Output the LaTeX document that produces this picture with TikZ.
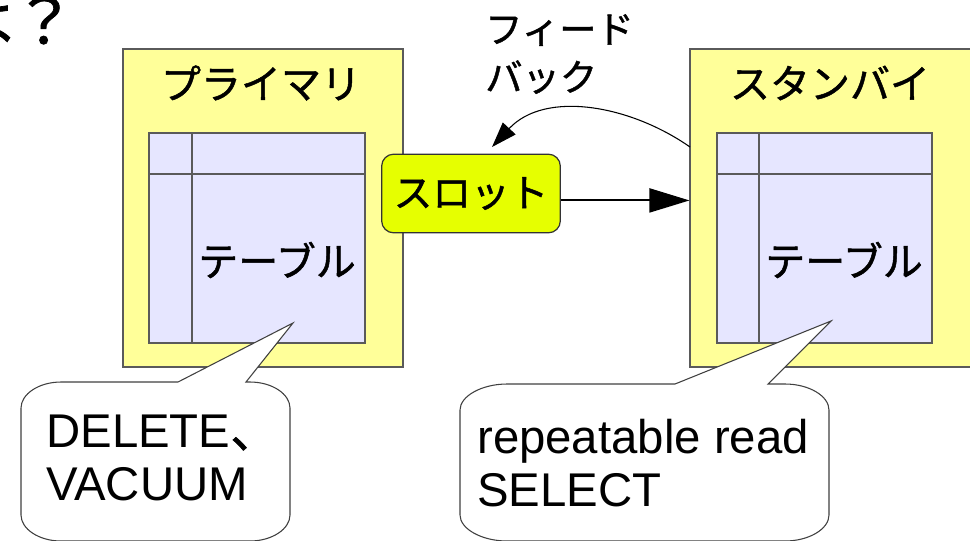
\documentclass[tikz,border=0pt]{standalone}
\usepackage{fontspec}
\setmainfont{Noto Sans CJK JP}[FakeBold=1.2]
\newfontfamily\lat{Liberation Sans}
\usetikzlibrary{arrows.meta,fit}
\definecolor{boxy}{HTML}{FFFF99}
\definecolor{lav}{HTML}{E6E6FF}
\definecolor{slotc}{HTML}{E6FF00}
\definecolor{edge}{HTML}{5A5A5A}
\begin{document}
\begin{tikzpicture}[x=0.75pt,y=-0.75pt,
  box/.style={draw=edge, fill=boxy, line width=0.8pt, inner sep=0pt},
  tbl/.style={draw=edge, fill=lav, line width=0.8pt, inner sep=0pt},
  tline/.style={draw=edge, line width=0.8pt},
  ttl/.style={font=\fontsize{30}{36}\selectfont, inner sep=0pt},
  slotbox/.style={draw=black!80, fill=slotc, line width=0.9pt, rounded corners=9pt,
     minimum width=134pt, minimum height=59pt, inner sep=0pt, font=\fontsize{29}{34}\selectfont},
  bubble/.style={draw=black!75, fill=white, line width=0.8pt},
  btxt/.style={font=\lat\fontsize{35.5}{39.5}\selectfont, align=left, inner sep=0pt},
  conn/.style={line width=1.5pt, -{Triangle[length=30pt,width=18pt]}},
  fb/.style={line width=0.8pt, -{Triangle[length=19pt,width=13pt]}},
]
\useasboundingbox (0,0) rectangle (970,540);
\clip (0,0) rectangle (970,540);

% partial title
\node[font=\fontsize{47}{50}\selectfont, inner sep=0pt, anchor=base east] (title) at (76,44) {は？};

% primary
\node[box, fit={(123,49) (403,367)}] (primary) {};
\node[ttl] (ptitle) at (261,83) {プライマリ};
\node[tbl, fit={(149,133) (365,343)}] (ptable) {};
\draw[tline] (192,133) -- (192,343);
\draw[tline] (149,174) -- (365,174);
\node[ttl] (ptext) at (277,260) {テーブル};

% standby
\node[box, fit={(690,49) (980,367)}] (standby) {};
\node[ttl] (stitle) at (830,83) {スタンバイ};
\node[tbl, fit={(717,133) (932,343)}] (stable) {};
\draw[tline] (759,133) -- (759,343);
\draw[tline] (717,174) -- (932,174);
\node[ttl] (stext) at (844,260) {テーブル};

% slot
\node[slotbox] (slot) at (471,193.5) {スロット};
\draw[conn] ([yshift=-5.2pt]slot.east) -- ([yshift=-5.2pt]slot.east -| standby.west);

% feedback
\coordinate (fbstart) at (690,147);
\coordinate (fbend) at (492,147);
\draw[fb] (fbstart) .. controls (630,105) and (545,90) .. (fbend);
\node[font=\fontsize{28}{36}\selectfont, align=left, inner sep=0pt, anchor=north west] (fblabel) at (485,14) {フィード\\バック};

% left bubble
\draw[bubble] (178,382) -- (293,323) -- (246,382) -- (250,382)
  .. controls (272,382) and (290,394) .. (290,408) -- (290,515)
  .. controls (290,529) and (272,541) .. (250,541) -- (61,541)
  .. controls (39,541) and (21,529) .. (21,515) -- (21,408)
  .. controls (21,394) and (39,382) .. (61,382) -- cycle;
\node[btxt, anchor=north west] (ltext) at (46,415) {DELETE{\rmfamily 、}\\VACUUM};

% right bubble
\draw[bubble] (675,384) -- (831,321) -- (768,384) -- (785,384)
  .. controls (809,384) and (829,396) .. (829,410) -- (829,515)
  .. controls (829,529) and (809,541) .. (785,541) -- (507,541)
  .. controls (482,541) and (460,529) .. (460,515) -- (460,410)
  .. controls (460,396) and (482,384) .. (507,384) -- cycle;
\node[btxt, anchor=north west] (rtext) at (477,419) {repeatable read\\SELECT};
\end{tikzpicture}
\end{document}
